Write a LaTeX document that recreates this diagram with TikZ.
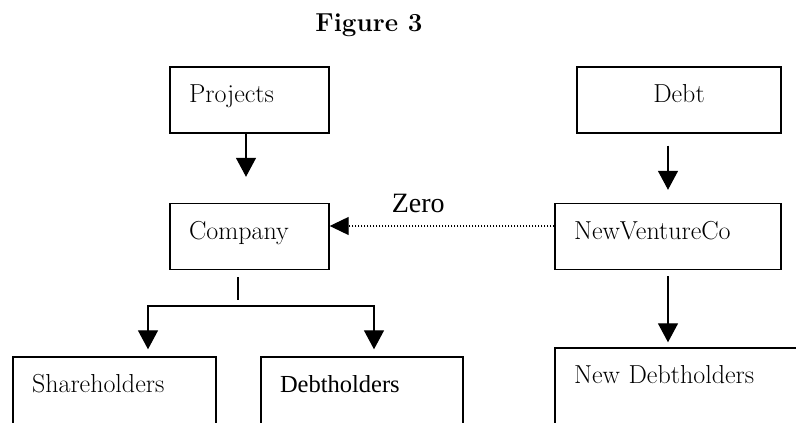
\documentclass[tikz,border=0pt]{standalone}
\usepackage{fontspec}
\newfontfamily\timesfont{Liberation Serif}
\usetikzlibrary{arrows.meta}
\tikzset{box style/.style={
		draw=black,
		line width=1.4pt,
		rectangle,
		text width=#1,
		align=left,
		inner xsep=19pt,
		inner ysep=0pt,
		text height=36pt,
		text depth=30pt,
		font=\fontsize{26pt}{30pt}\selectfont,
	},
	open style/.style={
		box style=#1,
		text depth=50pt,
	},
	arrow style/.style={
		line width=1.4pt,
		-{Triangle[width=20pt,length=19pt]},
	},
	zero style/.style={
		line width=1.2pt,
		dash pattern=on 1.2pt off 1.8pt,
		-{Triangle[width=18pt,length=19pt]},
	},
	edge style/.style={
		text=black,
		font=\timesfont\fontsize{28pt}{32pt}\selectfont,
		above,
		inner sep=13pt,
	}
}

\begin{document}
\begin{tikzpicture}[x=1pt,y=1pt,node distance=136.5pt]
	\clip (0,0) rectangle (796,423);
	\node[font=\bfseries\fontsize{26pt}{30pt}\selectfont, anchor=base] (Title) at (369,391) {Figure 3};
	
	\node[box style=121pt] (Projects) at (249.5,323) {Projects};
	
	\node[box style=121pt, below of=Projects] (Company) {Company};
	\draw[arrow style, shorten >=26pt] ([xshift=-3.5pt]Projects.south) -- ([xshift=-3.5pt]Company.north);
	
	\node[box style=166pt, align=center] (Debt) at (679,323) {Debt};
	
	\node[box style=188pt, below of=Debt, xshift=-11pt] (NewVentureCo) {NewVentureCo};
	\draw[arrow style, shorten <=12pt, shorten >=13pt] ([xshift=-11pt]Debt.south) -- (NewVentureCo.north);
	
	\draw[zero style] ([yshift=10.5pt]NewVentureCo.west) -- node[edge style, pos=0.606]{Zero} ([yshift=10.5pt]Company.east);
	
	\node[open style=165pt, below of=Company, xshift=-135pt, yshift=-27pt] (Shareholders) {Shareholders};
	
	\node[open style=164pt, below of=Company, xshift=112.5pt, yshift=-27pt, font=\timesfont\fontsize{24.5pt}{28pt}\selectfont] (Debtholders) {Debtholders};
	
	\node[open style=222pt, below of=NewVentureCo, xshift=17pt, yshift=-18pt] (NewDebtholders) {New Debtholders};
	\draw[arrow style, shorten <=6pt, shorten >=5pt] (NewVentureCo.south) -- ([xshift=-17pt]NewDebtholders.north);
	
	% split below the company
	\coordinate (Fork) at (238,117);
	\draw[line width=1.2pt, shorten <=7pt, shorten >=6pt] (Company.south -| Fork) -- (Fork);
	\draw[arrow style, shorten >=7pt] (Fork) -| ([xshift=33.5pt]Shareholders.north);
	\draw[arrow style, shorten >=7pt] (Fork) -| ([xshift=12pt]Debtholders.north);
\end{tikzpicture}
\end{document}
